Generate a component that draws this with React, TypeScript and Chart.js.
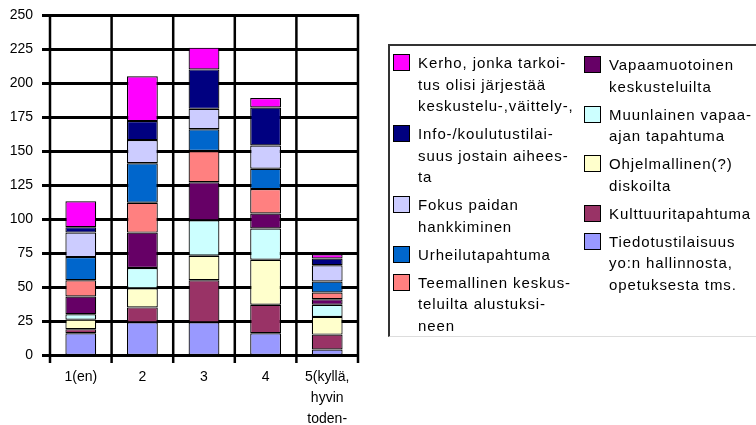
import React, { useEffect, useRef } from "react";
import { Chart, registerables } from "chart.js";

Chart.register(...registerables);

// Categories (multi-line labels)
const categories: string[][] = [["1(en)"], ["2"], ["3"], ["4"], ["5(kyllä,", "hyvin", "toden-"]];

// Y axis
const yMin = 0;
const yMax = 250;
const yStep = 25;

// Series, bottom of stack first
const tiedotus = [16, 24, 24, 16, 4];
const kulttuuri = [3, 11, 31, 21, 11];
const ohjelmallinen = [7, 14, 18, 33, 13];
const muunlainen = [4, 15, 26, 23, 9];
const vapaamuotoinen = [13, 26, 28, 11, 4];
const teemallinen = [12, 22, 23, 18, 5];
const urheilu = [17, 29, 16, 15, 8];
const fokus = [18, 17, 15, 17, 12];
const info = [4, 14, 29, 28, 5];
const kerho = [19, 33, 16, 7, 3];

const seriesValues = [tiedotus, kulttuuri, ohjelmallinen, muunlainen, vapaamuotoinen, teemallinen, urheilu, fokus, info, kerho];

const seriesLabels: string[][] = [
  ["Tiedotustilaisuus", "yo:n hallinnosta,", "opetuksesta tms."],
  ["Kulttuuritapahtuma"],
  ["Ohjelmallinen(?)", "diskoilta"],
  ["Muunlainen vapaa-", "ajan tapahtuma"],
  ["Vapaamuotoinen", "keskusteluilta"],
  ["Teemallinen keskus-", "teluilta alustuksi-", "neen"],
  ["Urheilutapahtuma"],
  ["Fokus paidan", "hankkiminen"],
  ["Info-/koulutustilai-", "suus jostain aihees-", "ta"],
  ["Kerho, jonka tarkoi-", "tus olisi järjestää", "keskustelu-,väittely-,"],
];

const seriesColors = ["#9999FF", "#993366", "#FFFFCC", "#CCFFFF", "#660066", "#FF8080", "#0066CC", "#CCCCFF", "#000080", "#FF00FF"];

const FONT = "'Liberation Sans', Arial, sans-serif";
const GRID = "#000";

function strokeLine(ctx: CanvasRenderingContext2D, x1: number, y1: number, x2: number, y2: number, w: number) {
  ctx.lineWidth = w;
  ctx.beginPath();
  ctx.moveTo(x1, y1);
  ctx.lineTo(x2, y2);
  ctx.stroke();
}

// Draws the Excel-style grid from the scales, beneath the bars.
const gridPlugin = {
  id: "excelGrid",
  beforeDatasetsDraw(chart: any) {
    const { ctx, chartArea, scales } = chart;
    const x = scales.x;
    const y = scales.y;
    ctx.save();
    ctx.strokeStyle = GRID;
    ctx.lineCap = "butt";
    const n = categories.length;
    for (let i = 0; i <= n; i++) {
      let px: number;
      if (i === 0) px = chartArea.left;
      else if (i === n) px = chartArea.right;
      else px = (x.getPixelForValue(i - 1) + x.getPixelForValue(i)) / 2;
      strokeLine(ctx, px, chartArea.top - 1, px, chartArea.bottom + 8, 2.5);
    }
    for (let v = yMin; v <= yMax; v += yStep) {
      const py = Math.round(y.getPixelForValue(v)) + 0.5;
      strokeLine(ctx, chartArea.left - 8, py, chartArea.right + 1, py, 3);
    }
    ctx.restore();
  },
};

function LegendItem({ label, color, last }: { label: string[]; color: string; last: boolean }) {
  return (
    <div style={{ display: "flex", alignItems: "flex-start", marginBottom: last ? 0 : 6.5 }}>
      <div
        style={{
          width: 17,
          height: 17,
          boxSizing: "border-box",
          border: "1px solid #000",
          background: color,
          marginTop: 2.25,
          marginRight: 8,
          flex: "none",
        }}
      />
      <div style={{ font: `15px ${FONT}`, letterSpacing: "0.9px", lineHeight: "21.5px", whiteSpace: "nowrap", color: "#000" }}>
        {label.map((l, i) => (
          <div key={i}>{l}</div>
        ))}
      </div>
    </div>
  );
}

export default function App() {
  const ref = useRef<HTMLCanvasElement | null>(null);

  useEffect(() => {
    if (!ref.current) return;
    const chart = new Chart(ref.current, {
      type: "bar",
      data: {
        labels: categories,
        datasets: seriesValues.map((vals, i) => ({
          label: seriesLabels[i].join(" "),
          data: vals,
          backgroundColor: seriesColors[i],
          borderColor: "#000",
          borderWidth: 1.2,
          borderSkipped: false,
          barPercentage: 0.5,
          categoryPercentage: 1,
        })),
      },
      options: {
        responsive: false,
        animation: false,
        events: [],
        layout: { padding: { top: 15, right: 398, left: 0, bottom: 0 } },
        plugins: { legend: { display: false }, tooltip: { enabled: false } },
        scales: {
          x: {
            stacked: true,
            grid: { display: false, offset: true },
            border: { display: false },
            ticks: { color: "#000", font: { family: FONT, size: 14, lineHeight: 1.5 }, padding: 4, maxRotation: 0, autoSkip: false },
            afterFit: (s: any) => {
              s.height = 70;
              s.paddingLeft = 0;
              s.paddingRight = 0;
            },
          },
          y: {
            stacked: true,
            min: yMin,
            max: yMax,
            grid: { display: false },
            border: { display: false },
            ticks: { stepSize: yStep, color: "#000", font: { family: FONT, size: 14 }, padding: 9 },
            afterFit: (s: any) => {
              s.width = 50;
              s.paddingTop = 8;
              s.paddingBottom = 8;
            },
          },
        },
      },
      plugins: [gridPlugin],
    });
    return () => chart.destroy();
  }, []);

  const legendOrder = seriesLabels.map((l, i) => ({ label: l, color: seriesColors[i] })).reverse();
  const col1 = legendOrder.slice(0, 5);
  const col2 = legendOrder.slice(5);

  return (
    <div style={{ position: "absolute", left: 0, top: 0, width: 756, height: 425, overflow: "hidden", background: "#fff" }}>
      <canvas ref={ref} width={756} height={425} style={{ position: "absolute", left: 0, top: 0 }} />
      <div
        style={{
          position: "absolute",
          left: 388,
          top: 44,
          width: 380,
          height: 293,
          borderTop: "2px solid #333",
          borderLeft: "2px solid #333",
          borderBottom: "1px solid #ddd",
          boxSizing: "border-box",
        }}
      />
      <div style={{ position: "absolute", left: 393, top: 52 }}>
        {col1.map((it, i) => (
          <LegendItem key={i} label={it.label} color={it.color} last={i === col1.length - 1} />
        ))}
      </div>
      <div style={{ position: "absolute", left: 584, top: 54 }}>
        {col2.map((it, i) => (
          <LegendItem key={i} label={it.label} color={it.color} last={i === col2.length - 1} />
        ))}
      </div>
    </div>
  );
}
